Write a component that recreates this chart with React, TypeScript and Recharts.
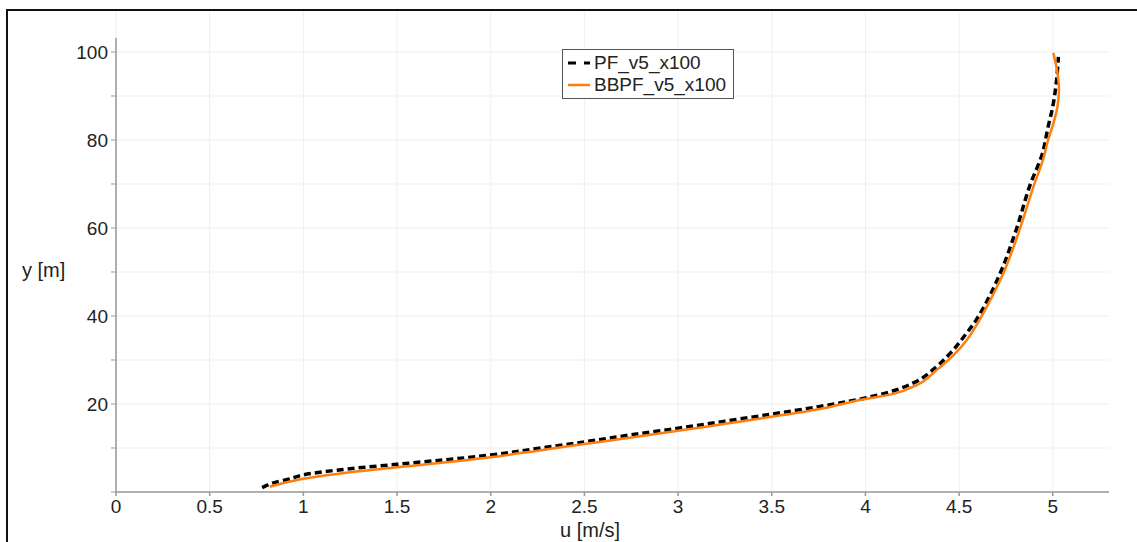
import React from 'react';
import { LineChart, Line, XAxis, YAxis, CartesianGrid, ReferenceLine } from 'recharts';

// velocity profiles u(y), ordered by height
const pfU = [0.78, 0.85, 0.93, 1.0, 1.25, 1.5, 1.75, 2.0, 2.25, 2.5, 2.75, 3.0, 3.25, 3.5, 3.75, 3.97, 4.149, 4.256, 4.38, 4.452, 4.54, 4.585, 4.65, 4.719, 4.804, 4.879, 4.945, 4.975, 5.0, 5.02, 5.03];
const pfY = [1.0, 2.2, 3.0, 3.9, 5.3, 6.3, 7.3, 8.4, 9.9, 11.4, 13.0, 14.5, 16.1, 17.7, 19.4, 21.1, 23.0, 24.8, 28.5, 31.5, 36.1, 38.7, 43.5, 49.7, 59.5, 69.8, 77, 83, 87.6, 93.6, 98.9];

const bbpfU = [0.82, 0.9, 1.0, 1.25, 1.5, 1.75, 2.0, 2.25, 2.5, 2.75, 3.0, 3.25, 3.5, 3.75, 3.97, 4.149, 4.274, 4.38, 4.47, 4.54, 4.594, 4.665, 4.736, 4.822, 4.9, 4.95, 4.975, 5.005, 5.025, 5.033, 5.025, 5.003];
const bbpfY = [1.2, 2.1, 3.0, 4.5, 5.6, 6.7, 7.9, 9.4, 10.9, 12.4, 13.9, 15.5, 17.1, 18.8, 20.9, 22.3, 24.3, 27.7, 31.1, 34.5, 38, 43.5, 49.7, 59.5, 69.8, 75.8, 80, 84, 87.6, 91.4, 95.2, 99.8];

const xTicks = [0, 0.5, 1, 1.5, 2, 2.5, 3, 3.5, 4, 4.5, 5];
const yTicks = [0, 10, 20, 30, 40, 50, 60, 70, 80, 90, 100];

const pfData = pfU.map((u, i) => ({ u, y: pfY[i] }));
const bbpfData = bbpfU.map((u, i) => ({ u, y: bbpfY[i] }));

const font = '"Liberation Sans", Arial, sans-serif';
const orange = '#ff7f0e';

function YTick(props: any) {
  const { x, y, payload } = props;
  if (payload.value === 0 || payload.value % 20 !== 0) return null;
  return (
    <text x={x} y={y} dy="0.35em" textAnchor="end" fill="#222" fontSize={19} fontFamily={font}>
      {payload.value}
    </text>
  );
}

function LegendBox() {
  return (
    <div style={{ position: 'absolute', left: 562, top: 49, width: 170, height: 48, border: '1px solid #555', background: '#fff', fontFamily: font, fontSize: 19, color: '#222' }}>
      <div style={{ display: 'flex', alignItems: 'center', height: 22, marginTop: 2 }}>
        <svg width={30} height={22}><line x1={5} y1={11} x2={27} y2={11} stroke="#000" strokeWidth={3} strokeDasharray="8 8" /></svg>
        <span style={{ marginLeft: 1 }}>PF_v5_x100</span>
      </div>
      <div style={{ display: 'flex', alignItems: 'center', height: 22 }}>
        <svg width={30} height={22}><line x1={5} y1={11} x2={27} y2={11} stroke={orange} strokeWidth={2.5} /></svg>
        <span style={{ marginLeft: 1 }}>BBPF_v5_x100</span>
      </div>
    </div>
  );
}

export default function App() {
  return (
    <div style={{ position: 'absolute', left: 0, top: 0, width: 1137, height: 542, overflow: 'hidden', background: '#fff' }}>
      <LineChart width={1137} height={542} margin={{ top: 9, right: 28, bottom: 20, left: 0 }}>
        <CartesianGrid stroke="#efefef" strokeWidth={1} horizontalValues={yTicks} verticalValues={xTicks} />
        <XAxis type="number" dataKey="u" domain={[0, 5.3]} ticks={xTicks} allowDataOverflow height={30}
          stroke="#999" strokeWidth={1.5} tickSize={4} tickMargin={4}
          tick={{ fill: '#222', fontSize: 19, fontFamily: font }} />
        <YAxis type="number" dataKey="y" domain={[0, 109.77]} ticks={yTicks} allowDataOverflow width={116}
          axisLine={false} stroke="#999" tickSize={5} tickMargin={3} tick={<YTick />} />
        <ReferenceLine segment={[{ x: 0, y: 0 }, { x: 0, y: 103.2 }]} stroke="#999" strokeWidth={1.5} />
        <Line data={pfData} dataKey="y" name="PF_v5_x100" type="monotoneY" stroke="#000" strokeWidth={3.5}
          strokeDasharray="7 4" dot={false} isAnimationActive={false} />
        <Line data={bbpfData} dataKey="y" name="BBPF_v5_x100" type="monotoneY" stroke={orange} strokeWidth={2.5}
          dot={false} isAnimationActive={false} />
      </LineChart>
      <LegendBox />
      <svg width={1137} height={542} style={{ position: 'absolute', left: 0, top: 0, pointerEvents: 'none' }}>
        <text x={22} y={277} fontSize={20} fontFamily={font} fill="#222">y [m]</text>
        <text x={590} y={537} textAnchor="middle" fontSize={20} fontFamily={font} fill="#222">u [m/s]</text>
        <path d="M7,542 L7,10 L1137,10" fill="none" stroke="#111" strokeWidth={2} />
      </svg>
    </div>
  );
}
